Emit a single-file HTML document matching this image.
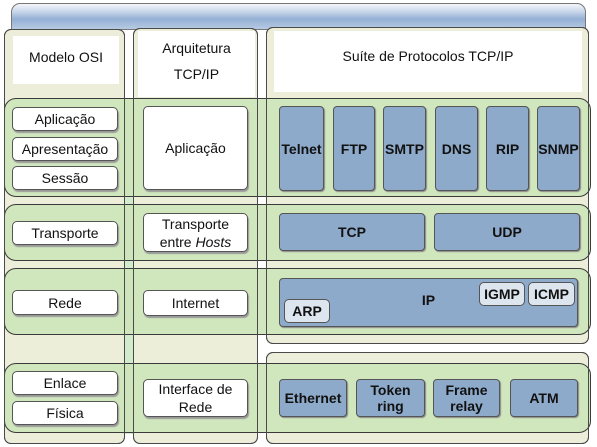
<!DOCTYPE html>
<html><head><meta charset="utf-8"><style>
body{margin:0;width:597px;height:447px;background:#fff;position:relative;overflow:hidden;font-family:"Liberation Sans",sans-serif;}
div{position:absolute;box-sizing:border-box;}
.col{background:#eceed9;border:1px solid #4a4a4a;border-radius:7px;}
.colb{border:1px solid #4a4a4a;border-radius:7px;}
.row{background:rgba(205,228,185,0.9);border:1px solid #3a3a3a;border-radius:12px;}
.w{background:#fff;border:1px solid #555;border-radius:5px;box-shadow:1px 2px 1px #999;display:flex;align-items:center;justify-content:center;text-align:center;font-size:14px;color:#111;line-height:18px;}
.b{background:#8eaacb;border:1px solid #555;border-radius:4px;box-shadow:1px 1px 1px #888;display:flex;align-items:center;justify-content:center;text-align:center;font-size:14px;font-weight:bold;color:#111;line-height:16px;}
.l{background:#dde5ef;border:1px solid #555;border-radius:5px;display:flex;align-items:center;justify-content:center;font-size:14px;font-weight:bold;color:#111;}
.h{background:#fff;display:flex;justify-content:center;text-align:center;font-size:14px;color:#111;line-height:26px;}
</style></head><body>
<div style="left:11px;top:3px;width:575px;height:27px;border:1px solid #777;border-radius:9px 9px 0 0;background:linear-gradient(#f4f7fb 0%,#c9d7ea 30%,#93b0d4 60%,#b7cae2 100%);"></div>
<div class="col" style="left:4px;top:29px;width:121px;height:415px;"></div>
<div class="col" style="left:133px;top:28px;width:125px;height:416px;"></div>
<div class="col" style="left:266px;top:27px;width:323px;height:317px;"></div>
<div class="col" style="left:266px;top:352px;width:323px;height:92px;"></div>
<div style="left:124px;top:98px;width:10px;height:336px;background:#d3ebcd;"></div>
<div class="h" style="left:13px;top:36px;width:106px;height:48px;padding-top:8px;"><span>Modelo OSI</span></div>
<div class="h" style="left:138px;top:31px;width:117px;height:66px;padding-top:4px;"><span>Arquitetura<br>TCP/IP</span></div>
<div class="h" style="left:274px;top:31px;width:308px;height:61px;padding-top:12px;"><span>Suíte de Protocolos TCP/IP</span></div>
<div class="row" style="left:4px;top:98px;width:587px;height:99px;"></div>
<div class="row" style="left:4px;top:204px;width:587px;height:57px;"></div>
<div class="row" style="left:4px;top:268px;width:587px;height:67px;"></div>
<div class="row" style="left:4px;top:363px;width:587px;height:70px;"></div>
<div class="colb" style="left:4px;top:29px;width:121px;height:415px;"></div>
<div class="colb" style="left:133px;top:28px;width:125px;height:416px;"></div>
<div class="colb" style="left:266px;top:27px;width:323px;height:317px;"></div>
<div class="colb" style="left:266px;top:352px;width:323px;height:92px;"></div>
<div class="w" style="left:12px;top:107px;width:106px;height:24px;"><span>Aplicação</span></div>
<div class="w" style="left:12px;top:137px;width:106px;height:24px;"><span>Apresentação</span></div>
<div class="w" style="left:12px;top:166px;width:106px;height:24px;"><span>Sessão</span></div>
<div class="w" style="left:12px;top:221px;width:106px;height:24px;"><span>Transporte</span></div>
<div class="w" style="left:12px;top:290px;width:106px;height:25px;"><span>Rede</span></div>
<div class="w" style="left:12px;top:371px;width:106px;height:24px;"><span>Enlace</span></div>
<div class="w" style="left:12px;top:401px;width:106px;height:24px;"><span>Física</span></div>
<div class="w" style="left:143px;top:106px;width:105px;height:84px;"><span>Aplicação</span></div>
<div class="w" style="left:143px;top:213px;width:105px;height:39px;"><span>Transporte<br>entre <i>Hosts</i></span></div>
<div class="w" style="left:143px;top:290px;width:105px;height:26px;"><span>Internet</span></div>
<div class="w" style="left:143px;top:379px;width:105px;height:38px;"><span>Interface de<br>Rede</span></div>
<div class="b" style="left:279px;top:106px;width:45px;height:85px;"><span>Telnet</span></div>
<div class="b" style="left:333px;top:106px;width:42px;height:85px;"><span>FTP</span></div>
<div class="b" style="left:383px;top:106px;width:43px;height:85px;"><span>SMTP</span></div>
<div class="b" style="left:435px;top:106px;width:43px;height:85px;"><span>DNS</span></div>
<div class="b" style="left:486px;top:106px;width:43px;height:85px;"><span>RIP</span></div>
<div class="b" style="left:537px;top:106px;width:43px;height:85px;"><span>SNMP</span></div>
<div class="b" style="left:279px;top:213px;width:146px;height:38px;"><span>TCP</span></div>
<div class="b" style="left:434px;top:213px;width:146px;height:38px;"><span>UDP</span></div>
<div class="b" style="left:279px;top:278px;width:299px;height:49px;padding-bottom:6px;"><span>IP</span></div>
<div class="l" style="left:284px;top:299px;width:46px;height:24px;"><span>ARP</span></div>
<div class="l" style="left:479px;top:282px;width:46px;height:24px;"><span>IGMP</span></div>
<div class="l" style="left:528px;top:282px;width:47px;height:24px;"><span>ICMP</span></div>
<div class="b" style="left:279px;top:379px;width:68px;height:38px;"><span>Ethernet</span></div>
<div class="b" style="left:356px;top:379px;width:69px;height:38px;"><span>Token<br>ring</span></div>
<div class="b" style="left:433px;top:379px;width:67px;height:38px;"><span>Frame<br>relay</span></div>
<div class="b" style="left:510px;top:379px;width:68px;height:38px;"><span>ATM</span></div>
</body></html>
